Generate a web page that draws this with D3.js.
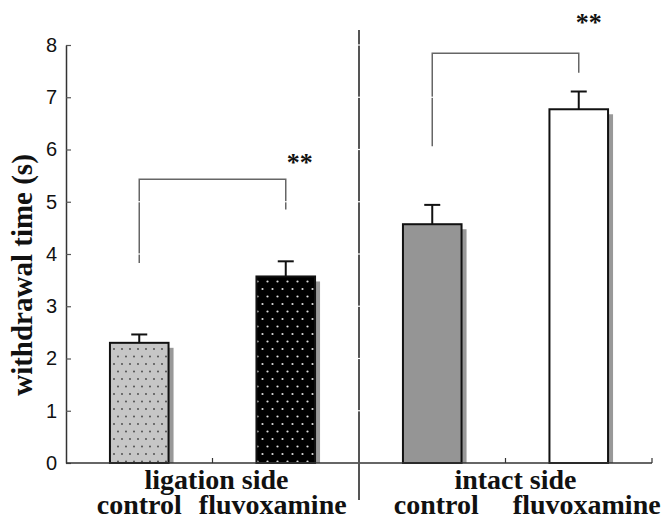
<!DOCTYPE html>
<html>
<head>
<title>withdrawal time</title>
<script src="https://d3js.org/d3.v7.min.js"></script>
<style type="text/css">
  body { margin:0; background:white; }
  svg text { fill:#111; }
</style>
</head>
<body>
<div id="chart"></div>
<script type="text/javascript">

// data
var categories = ["control", "fluvoxamine", "control", "fluvoxamine"];
var groups = ["ligation side", "intact side"];
var means = [2.30, 3.57, 4.57, 6.77];
var errors = [0.16, 0.29, 0.37, 0.34];
var yTicks = [0, 1, 2, 3, 4, 5, 6, 7, 8];
var bracketTop = [5.43, 7.84];
var bracketLegs = [[3.83, 4.85], [6.06, 7.47]];
var starLevel = [5.8, 8.47];
var starLabel = ["**", "**"];

var width = 671, height = 518;

var svg = d3.select("#chart").append("svg")
    .attr("width", width).attr("height", height);
svg.append("rect").attr("width", width).attr("height", height).attr("fill", "white");

var y = d3.scaleLinear().domain([0, 8]).range([463, 45]);
var x = d3.scaleBand().domain(d3.range(categories.length))
    .range([66, 652]).paddingInner(0.6).paddingOuter(0.3);
var bw = x.bandwidth(), step = x.step();
function cx(i) { return x(i) + bw / 2; }

// fill patterns
var defs = svg.append("defs");
var p1 = defs.append("pattern").attr("id", "dotsLight")
    .attr("patternUnits", "userSpaceOnUse").attr("width", 8).attr("height", 15);
p1.append("rect").attr("width", 8).attr("height", 15).attr("fill", "#c6c6c6");
p1.append("circle").attr("cx", 2).attr("cy", 4).attr("r", 0.9).attr("fill", "#444");
p1.append("circle").attr("cx", 6).attr("cy", 11.5).attr("r", 0.9).attr("fill", "#444");
var p2 = defs.append("pattern").attr("id", "dotsDark")
    .attr("patternUnits", "userSpaceOnUse").attr("width", 10).attr("height", 15);
p2.append("rect").attr("width", 10).attr("height", 15).attr("fill", "#000");
p2.append("circle").attr("cx", 2.5).attr("cy", 4).attr("r", 1.1).attr("fill", "#ddd");
p2.append("circle").attr("cx", 7.5).attr("cy", 11.5).attr("r", 1.1).attr("fill", "#ddd");

var fills = ["url(#dotsLight)", "url(#dotsDark)", "#959595", "#ffffff"];

// divider between the two sides
var divX = x(1) + bw / 2 + step / 2;
svg.append("line").attr("x1", divX).attr("x2", divX).attr("y1", 30).attr("y2", 500)
   .attr("stroke", "#555").attr("stroke-width", 2);

// significance brackets
var br = svg.append("g").attr("stroke", "#666").attr("stroke-width", 1.5).attr("fill", "none");
bracketTop.forEach(function(v, k) {
  var a = cx(2 * k), b = cx(2 * k + 1);
  br.append("path").attr("d",
     "M" + a + "," + y(bracketLegs[k][0]) + "V" + y(v) + "H" + b + "V" + y(bracketLegs[k][1]));
});

// little white breaks where the gray verticals cross tick levels
var gaps = svg.append("g");
yTicks.forEach(function(t) {
  [divX, cx(0), cx(1), cx(2), cx(3)].forEach(function(xx) {
    gaps.append("line").attr("x1", xx - 2).attr("x2", xx + 2)
        .attr("y1", y(t)).attr("y2", y(t))
        .attr("stroke", "white").attr("stroke-width", 1.2);
  });
});

// shadows
svg.selectAll("rect.shadow").data(means).enter().append("rect")
   .attr("class", "shadow")
   .attr("x", function(d, i) { return x(i) + 5; })
   .attr("y", function(d) { return y(d) + 5; })
   .attr("width", bw)
   .attr("height", function(d) { return y(0) - y(d) - 5; })
   .attr("fill", "#999");

// error bars
var eb = svg.append("g").attr("stroke", "#111").attr("stroke-width", 2);
means.forEach(function(m, i) {
  eb.append("line").attr("x1", cx(i)).attr("x2", cx(i)).attr("y1", y(m)).attr("y2", y(m + errors[i]));
  eb.append("line").attr("x1", cx(i) - 8).attr("x2", cx(i) + 8)
     .attr("y1", y(m + errors[i])).attr("y2", y(m + errors[i]));
});

// bars
svg.selectAll("rect.bar").data(means).enter().append("rect")
   .attr("class", "bar")
   .attr("x", function(d, i) { return x(i); })
   .attr("y", function(d) { return y(d); })
   .attr("width", bw)
   .attr("height", function(d) { return y(0) - y(d); })
   .attr("fill", function(d, i) { return fills[i]; })
   .attr("stroke", "#111").attr("stroke-width", 2);

// y axis
var yAxis = d3.axisLeft(y).tickValues(yTicks).tickSizeInner(-5).tickSizeOuter(0).tickPadding(9);
var ga = svg.append("g").attr("transform", "translate(66,0)").call(yAxis);
ga.select(".domain").attr("stroke", "#333").attr("stroke-width", 1.5);
ga.selectAll(".tick line").attr("stroke", "#555").attr("stroke-width", 1.2);
ga.selectAll(".tick text").attr("font-family", "Liberation Sans, Arial, sans-serif")
  .attr("font-size", 20).attr("fill", "#111");

// x axis line and boundary ticks
svg.append("line").attr("x1", 66).attr("x2", 652).attr("y1", y(0)).attr("y2", y(0))
   .attr("stroke", "#333").attr("stroke-width", 1.5);
[0, 2, 3].forEach(function(i) {
  var bx = x(i) + bw / 2 + step / 2;
  svg.append("line").attr("x1", bx).attr("x2", bx).attr("y1", y(0)).attr("y2", y(0) - 5)
     .attr("stroke", "#333").attr("stroke-width", 1.2);
});

// text
var serif = "Liberation Serif, Times New Roman, serif";
svg.append("text").attr("transform", "translate(32,275) rotate(-90)")
   .attr("text-anchor", "middle").attr("font-family", serif).attr("font-weight", "bold")
   .attr("font-size", 29).text("withdrawal time (s)");

var groupNudge = [4, 10];
groups.forEach(function(g, k) {
  svg.append("text").attr("x", (cx(2 * k) + cx(2 * k + 1)) / 2 + groupNudge[k]).attr("y", 489)
     .attr("text-anchor", "middle").attr("font-family", serif).attr("font-weight", "bold")
     .attr("font-size", 28).text(g);
});

var catNudge = [0, -13, 4, 8];
categories.forEach(function(c, i) {
  svg.append("text").attr("x", cx(i) + catNudge[i]).attr("y", 514)
     .attr("text-anchor", "middle").attr("font-family", serif).attr("font-weight", "bold")
     .attr("font-size", 28).text(c);
});

starLevel.forEach(function(v, k) {
  svg.append("text").attr("x", cx(2 * k + 1) + (k == 0 ? 14 : 10)).attr("y", y(v) + 11)
     .attr("text-anchor", "middle").attr("font-family", serif).attr("font-weight", "bold")
     .attr("font-size", 26).text(starLabel[k]);
});

</script>
</body>
</html>
